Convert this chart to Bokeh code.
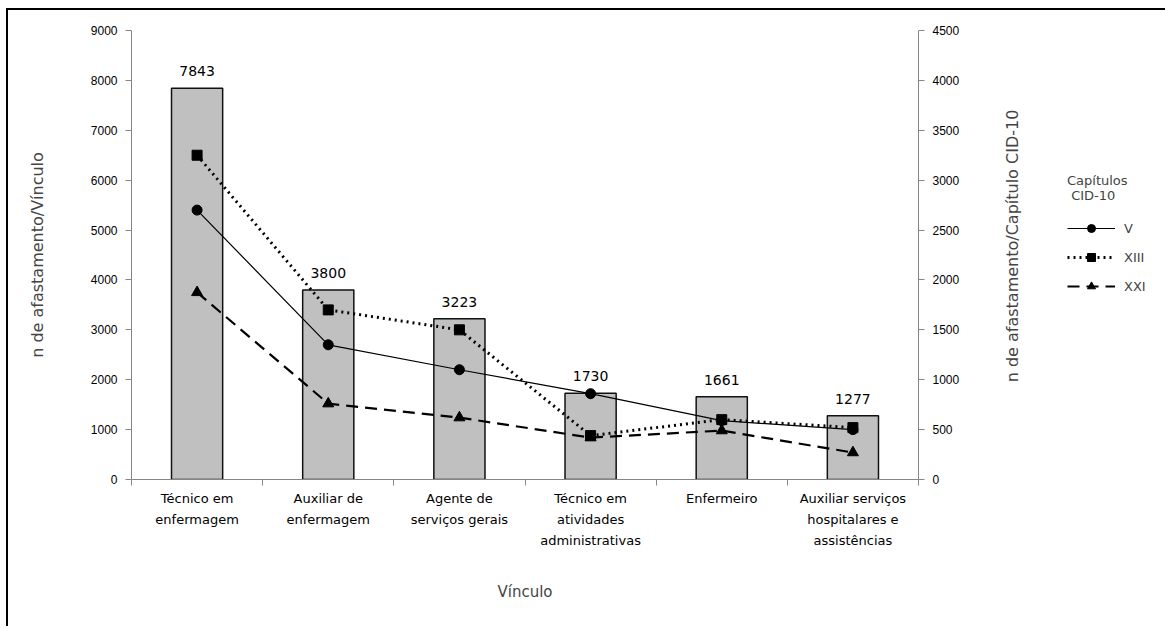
from bokeh.plotting import figure
from bokeh.models import Range1d, LinearAxis, FixedTicker, Legend, LegendItem, ColumnDataSource, Spacer
from bokeh.layouts import column, row
from bokeh.embed import file_html
from bokeh.resources import INLINE
from bokeh.core.properties import value

categories = ["Técnico em\nenfermagem", "Auxiliar de\nenfermagem", "Agente de\nserviços gerais",
              "Técnico em\natividades\nadministrativas", "Enfermeiro",
              "Auxiliar serviços\nhospitalares e\nassistências"]
totals = [7843, 3800, 3223, 1730, 1661, 1277]
cap_v = [2700, 1350, 1100, 860, 590, 500]
cap_xiii = [3250, 1700, 1500, 440, 600, 520]
cap_xxi = [1875, 760, 620, 420, 490, 270]
series_names = ["V", "XIII", "XXI"]
left_ticks = list(range(0, 9001, 1000))
right_ticks = list(range(0, 4501, 500))

FONT = "Liberation Sans"
WFONT = "DejaVu Sans"
AXC = "#868686"

xs = [i + 0.5 for i in range(len(categories))]
src = ColumnDataSource(dict(x=xs, total=totals, lab=[str(t) for t in totals],
                            v=cap_v, xiii=cap_xiii, xxi=cap_xxi))

p = figure(width=960, height=616, frame_width=787, frame_height=449,
           x_range=Range1d(0, len(categories)), y_range=Range1d(0, 9000),
           output_backend="svg", toolbar_location=None,
           min_border_left=123, min_border_right=50, min_border_top=20, min_border_bottom=147)
p.extra_y_ranges = {"right": Range1d(0, 4500)}
p.outline_line_color = None
p.xgrid.visible = False
p.ygrid.visible = False

p.vbar(x="x", top="total", width=0.39, source=src, fill_color="#c0c0c0",
       line_color="#111111", line_width=1.5)
p.text(x="x", y="total", text="lab", source=src, text_align="center", text_baseline="bottom",
       y_offset=-12, text_font=value(WFONT), text_font_size="14px", text_color="black")

styles = [
    dict(col="v", marker="circle", size=10, line_width=1.2, dash="solid"),
    dict(col="xiii", marker="square", size=10, line_width=3, dash="2 4"),
    dict(col="xxi", marker="triangle", size=11, line_width=2.2, dash="12 7"),
]
for st in styles:
    p.line(x="x", y=st["col"], source=src, y_range_name="right", line_color="black",
           line_width=st["line_width"], line_dash=st["dash"])
    p.scatter(x="x", y=st["col"], source=src, y_range_name="right", marker=st["marker"],
              size=st["size"], fill_color="black", line_color="black")

# x axis
xa = p.xaxis[0]
xa.ticker = FixedTicker(ticks=xs, minor_ticks=list(range(0, len(categories) + 1)))
xa.major_label_overrides = {x: c for x, c in zip(xs, categories)}
xa.major_tick_line_color = None
xa.minor_tick_line_color = AXC
xa.minor_tick_out = 6
xa.minor_tick_in = 0
xa.axis_line_color = AXC
xa.major_label_text_font = WFONT
xa.major_label_text_font_size = "13px"
xa.major_label_text_line_height = 1.4
xa.major_label_text_color = "black"
xa.major_label_standoff = 5
xa.axis_label = "Vínculo"
xa.axis_label_text_font = WFONT
xa.axis_label_text_font_style = "normal"
xa.axis_label_text_font_size = "15px"
xa.axis_label_standoff = 32

# left axis
ya = p.yaxis[0]
ya.ticker = FixedTicker(ticks=left_ticks, minor_ticks=[])
ya.axis_line_color = AXC
ya.major_tick_line_color = AXC
ya.major_tick_out = 6
ya.major_tick_in = 0
ya.minor_tick_line_color = None
ya.major_label_text_font = FONT
ya.major_label_text_font_size = "12px"
ya.major_label_text_color = "black"
ya.major_label_standoff = 8
ya.axis_label = "n de afastamento/Vínculo"
ya.axis_label_text_font = WFONT
ya.axis_label_text_font_style = "normal"
ya.axis_label_text_font_size = "16px"
ya.axis_label_standoff = 41

# right axis (ticks and numbers)
ra = LinearAxis(y_range_name="right", ticker=FixedTicker(ticks=right_ticks, minor_ticks=[]))
ra.axis_line_color = AXC
ra.major_tick_line_color = AXC
ra.major_tick_out = 6
ra.major_tick_in = 0
ra.minor_tick_line_color = None
ra.major_label_text_font = FONT
ra.major_label_text_font_size = "12px"
ra.major_label_text_color = "black"
ra.major_label_standoff = 8
p.add_layout(ra, "right")

# side panel: right-axis title + legend (series drawn off-screen, only their legend shows)
lf = figure(width=180, height=616, frame_width=108, frame_height=431,
            x_range=Range1d(100, 101), y_range=Range1d(0, 4500),
            x_axis_type=None, y_axis_type=None, output_backend="svg", toolbar_location=None,
            min_border_left=72, min_border_right=0, min_border_top=20, min_border_bottom=165)
lf.outline_line_color = None
lf.grid.visible = False
ta = LinearAxis(ticker=FixedTicker(ticks=[], minor_ticks=[]))
ta.axis_line_color = None
ta.major_tick_line_color = None
ta.minor_tick_line_color = None
ta.major_tick_out = 0
ta.major_label_standoff = 0
ta.axis_label = "n de afastamento/Capítulo CID-10"
ta.axis_label_text_font = WFONT
ta.axis_label_text_font_style = "normal"
ta.axis_label_text_font_size = "16px"
ta.axis_label_standoff = 19
lf.add_layout(ta, "left")

items = []
for name, st in zip(series_names, styles):
    l = lf.line(x="x", y=st["col"], source=src, line_color="black",
                line_width=st["line_width"], line_dash=st["dash"])
    s = lf.scatter(x="x", y=st["col"], source=src, marker=st["marker"], size=st["size"],
                   fill_color="black", line_color="black")
    items.append(LegendItem(label=name, renderers=[l, s]))

legend = Legend(items=items, title="Capítulos\n CID-10", location=(27, 165))
legend.background_fill_alpha = 0
legend.border_line_color = None
legend.padding = 5
legend.title_text_font = WFONT
legend.title_text_font_size = "13px"
legend.title_text_font_style = "normal"
legend.label_text_font = WFONT
legend.label_text_font_size = "13px"
legend.glyph_width = 48
legend.glyph_height = 20
legend.spacing = 9
legend.title_standoff = 15
legend.label_standoff = 9
lf.add_layout(legend, "center")

top_pad = Spacer(width=1165, height=8)
left_pad = Spacer(width=6, height=618)
top_line = Spacer(width=1159, height=2, styles={"background-color": "black"})
left_line = Spacer(width=2, height=616, styles={"background-color": "black"})
right_pad = Spacer(width=17, height=616)
inner = column(top_line, row(left_line, p, lf, right_pad, spacing=0), spacing=0)
layout = column(top_pad, row(left_pad, inner, spacing=0), spacing=0)
open("out.html", "w").write(file_html(layout, INLINE))
